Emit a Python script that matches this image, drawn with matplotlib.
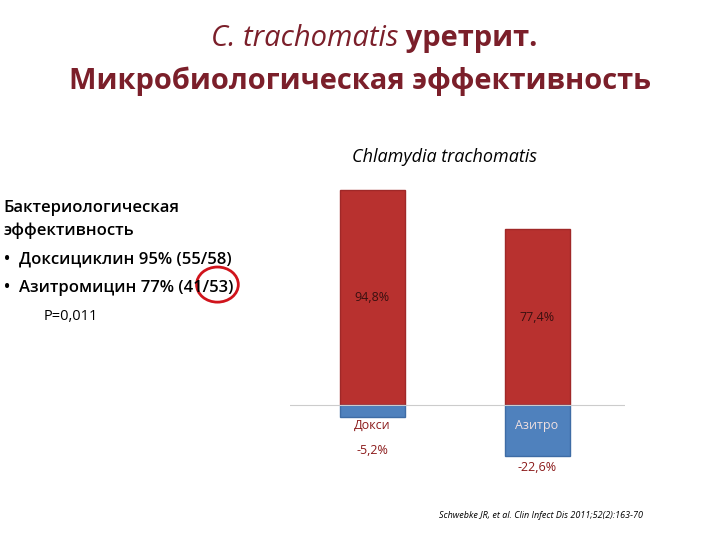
import matplotlib
matplotlib.use("Agg")
import matplotlib.pyplot as plt
from matplotlib.patches import Ellipse

plt.rcParams['font.family'] = ['Open Sans', 'DejaVu Sans']

categories = ["Докси", "Азитро"]
positive = [94.8, 77.4]
negative = [-5.2, -22.6]
pos_labels = ["94,8%", "77,4%"]
neg_labels = ["-5,2%", "-22,6%"]

fig = plt.figure(figsize=(7.2, 5.4), dpi=100)
tc = '#7B1F2A'
fig.text(0.553, 0.915, "C. trachomatis", ha='right', fontsize=21, color=tc, style='italic')
fig.text(0.553, 0.915, " уретрит.", ha='left', fontsize=21, color=tc, weight='bold')
fig.text(0.5, 0.835, "Микробиологическая эффективность", ha='center', fontsize=21, color=tc, weight='bold')
fig.text(0.617, 0.700, "Chlamydia trachomatis", ha='center', fontsize=13, style='italic', color='black')

left_text = [(0.005, 0.607, "Бактериологическая"), (0.005, 0.565, "эффективность"),
             (0.005, 0.513, "•  Доксициклин 95% (55/58)"), (0.005, 0.460, "•  Азитромицин 77% (41/53)")]
for x, y, t in left_text:
    fig.text(x, y, t, fontsize=12, color='black', weight='semibold')
fig.text(0.06, 0.407, "P=0,011", fontsize=10.5, color='black')
fig.patches.append(Ellipse((0.302, 0.473), 0.058, 0.065, transform=fig.transFigure,
                           fill=False, edgecolor='#D0141C', linewidth=2))

ax = fig.add_axes([290/720, 44/540, 335/720, 318/540])
x = [0, 1]
ax.bar(x, positive, width=0.394, color='#B8312F', edgecolor='#A02828')
ax.bar(x, negative, width=0.394, color='#4F81BD', edgecolor='#3E6CA5')
ax.axhline(0, color='#CCCCCC', linewidth=0.8)
ax.set_xlim(-0.497, 1.533)
ax.set_ylim(-40, 100)
ax.axis('off')
for xi, t, yv in zip(x, pos_labels, [47.5, 38.5]):
    ax.text(xi, yv, t, ha='center', va='center', fontsize=9, color='#3A1010')
for xi, c, cc in zip(x, categories, ['#8B1A1A', '#F0E0E0']):
    ax.text(xi, -9, c, ha='center', va='center', fontsize=9, color=cc)
for xi, t, yv in zip(x, neg_labels, [-20, -27.5]):
    ax.text(xi, yv, t, ha='center', va='center', fontsize=9, color='#8B1A1A')
fig.text(0.61, 0.04, "Schwebke JR, et al. Clin Infect Dis 2011;52(2):163-70", fontsize=6.5, style='italic')
fig.savefig("out.png", dpi=100)
